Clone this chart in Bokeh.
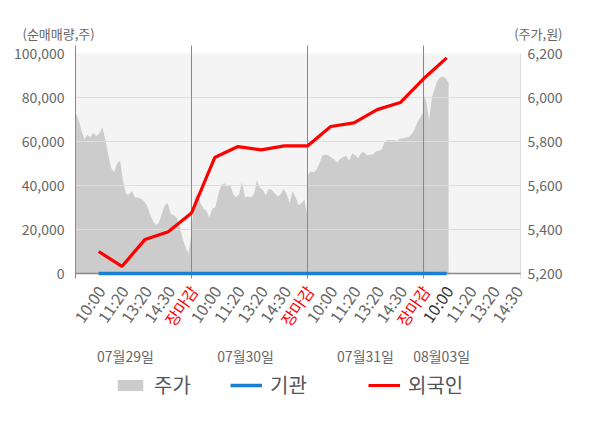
import numpy as np
from bokeh.plotting import figure
from bokeh.models import Range1d, BoxAnnotation, Legend, LegendItem, ColumnDataSource
from bokeh.core.properties import value
from bokeh.embed import file_html
from bokeh.resources import INLINE

FONT = "Noto Sans CJK KR"

# ---------------- data ----------------
tick_labels = ["10:00", "11:20", "13:20", "14:30", "장마감",
               "10:00", "11:20", "13:20", "14:30", "장마감",
               "10:00", "11:20", "13:20", "14:30", "장마감",
               "10:00", "11:20", "13:20", "14:30"]
dates = ["07월29일", "07월30일", "07월31일", "08월03일"]

# net buying (shares) at the time slots 10:00(day1) ... 10:00(day4)
foreign = [10000, 3200, 15500, 19000, 27500,
           52700, 57700, 56200, 58000, 58000,
           66800, 68500, 74500, 77700, 88500,
           98000]
institution = [0, 0, 0, 0, 0,
               0, 0, 0, 0, 0,
               0, 0, 0, 0, 0,
               0]

# intraday price (won)
day1_price = [5932, 5900, 5850, 5810, 5830, 5820, 5840, 5825, 5835, 5865,
              5810, 5740, 5680, 5660, 5700, 5713, 5620, 5560, 5560, 5575,
              5545, 5545, 5540, 5530, 5510, 5470, 5440, 5420, 5430, 5470,
              5510, 5520, 5470, 5465, 5455, 5410, 5360, 5320, 5290, 5380]
day2_price = [5400, 5540, 5565, 5520, 5495, 5485, 5455, 5495, 5500, 5560,
              5600, 5610, 5600, 5605, 5560, 5545, 5560, 5615, 5545, 5550,
              5545, 5560, 5625, 5590, 5580, 5555, 5585, 5580, 5565, 5550,
              5560, 5585, 5560, 5520, 5575, 5545, 5510, 5520, 5535, 5455]
day3_price = [5645, 5665, 5660, 5672, 5700, 5736, 5740, 5738, 5727, 5718,
              5705, 5722, 5730, 5735, 5712, 5745, 5740, 5725, 5748, 5752,
              5738, 5740, 5742, 5755, 5758, 5765, 5800, 5808, 5806, 5808,
              5800, 5812, 5814, 5818, 5820, 5832, 5855, 5890, 5910, 5935]
day4_price = [6020, 5980, 5895, 6000, 6040, 6077, 6091, 6095, 6086, 6068]

y_ticks = [0, 20000, 40000, 60000, 80000, 100000]
price_ticks = [5200, 5400, 5600, 5800, 6000, 6200]

# ---------------- layout (pixels) ----------------
W, H = 600, 428
PL, PR = 75, 520          # plot area left/right
PT, PB = 53, 273          # y of top tick / zero line
X_MAX = 19.18             # x units across plot area
ux = X_MAX / (PR - PL)
uy = (y_ticks[-1] - y_ticks[0]) / (PB - PT)
up = (price_ticks[-1] - price_ticks[0]) / (PB - PT)

x_range = Range1d(-PL * ux, X_MAX + (W - PR) * ux)
y_range = Range1d(y_ticks[0] - (H - PB) * uy, y_ticks[-1] + PT * uy)
price_range = Range1d(price_ticks[0] - (H - PB) * up, price_ticks[-1] + PT * up)
Y_TOP = y_ticks[-1] + 8 * uy
Y_BOT = y_ticks[0] - 5 * uy

tick_x = list(range(1, len(tick_labels) + 1))
flow_x = tick_x[:len(foreign)]
day_spans = [5, 5, 5, 1.08]
px, py = [], []
for d, prices in enumerate([day1_price, day2_price, day3_price, day4_price]):
    xs = np.linspace(5 * d, 5 * d + day_spans[d], len(prices))
    px.extend(xs.tolist())
    py.extend(prices)

p = figure(width=W, height=H, min_border=0, x_range=x_range, y_range=y_range,
           output_backend="svg", toolbar_location=None)
p.extra_y_ranges = {"price": price_range}
p.background_fill_color = "white"
p.border_fill_color = "white"
p.outline_line_color = None
p.axis.visible = False
p.grid.visible = False

p.add_layout(BoxAnnotation(left=0, right=X_MAX, bottom=y_ticks[0], top=y_ticks[-1],
                           fill_color="#f4f4f4", fill_alpha=1, line_color=None, level="underlay"))

area = p.varea(x=px, y1=price_ticks[0], y2=py, y_range_name="price", fill_color="#cccccc")
# horizontal grid
g = y_ticks[1:-1]
p.segment(x0=[0] * len(g), x1=[X_MAX] * len(g), y0=g, y1=g, line_color="#dddddd", line_width=1)
# day separators
p.segment(x0=[5, 10, 15], x1=[5, 10, 15], y0=[Y_BOT] * 3, y1=[Y_TOP] * 3,
          line_color="#888888", line_width=1)
# axis lines
p.segment(x0=[0], x1=[0], y0=[Y_BOT], y1=[Y_TOP], line_color="#888888", line_width=1)
p.segment(x0=[X_MAX], x1=[X_MAX], y0=[Y_BOT], y1=[y_ticks[-1]], line_color="#dddddd", line_width=1)
p.segment(x0=[0], x1=[X_MAX], y0=[0], y1=[0], line_color="#888888", line_width=1.5)

blue = p.line(x=flow_x, y=institution, line_color="#1a7fd0", line_width=3.5)
red = p.line(x=flow_x, y=foreign, line_color="#ff0000", line_width=3.2)

# left / right tick labels
p.text(x=[0] * len(y_ticks), y=y_ticks, text=[f"{v:,}" for v in y_ticks], x_offset=-11,
       text_align="right", text_baseline="middle", text_color="#666666",
       text_font=value(FONT), text_font_size="14px")
p.text(x=[X_MAX] * len(price_ticks), y=price_ticks, text=[f"{v:,}" for v in price_ticks],
       y_range_name="price", x_offset=7, text_align="left", text_baseline="middle",
       text_color="#666666", text_font=value(FONT), text_font_size="14px")

# axis titles
p.text(x=[0], y=[y_ticks[-1]], text=["(순매매량,주)"], x_offset=-53, y_offset=-20,
       text_align="left", text_baseline="middle", text_color="#666666",
       text_font=value(FONT), text_font_size="13px")
p.text(x=[X_MAX], y=[y_ticks[-1]], text=["(주가,원)"], x_offset=42, y_offset=-20,
       text_align="right", text_baseline="middle", text_color="#666666",
       text_font=value(FONT), text_font_size="13px")

# x labels
colors = []
for i, t in enumerate(tick_labels):
    if t == "장마감":
        colors.append("#ff0000")
    elif i == 15:
        colors.append("#333333")
    else:
        colors.append("#666666")
src = ColumnDataSource(dict(x=tick_x, y=[0] * len(tick_x), t=tick_labels, c=colors))
p.text(x="x", y="y", text="t", text_color="c", source=src, angle=55, angle_units="deg",
       x_offset=2, y_offset=14, text_align="right", text_baseline="middle",
       text_font=value(FONT), text_font_size="16px")

p.text(x=[2.15, 7.33, 12.5, 15.78], y=[0] * 4, text=dates, y_offset=82,
       text_align="center", text_baseline="middle", text_color="#666666",
       text_font=value(FONT), text_font_size="14px")

for lab, rend, lx in [("주가", area, 114), ("기관", blue, 230), ("외국인", red, 368)]:
    lg = Legend(items=[LegendItem(label=lab, renderers=[rend])], location=(lx, H - 399),
                orientation="horizontal", padding=0, margin=0, border_line_color=None,
                background_fill_alpha=0, glyph_width=32, glyph_height=14,
                label_standoff=8, label_text_font=FONT, label_text_font_size="20px",
                label_text_color="#555555")
    p.add_layout(lg, "center")

open("out.html", "w").write(file_html(p, INLINE))
